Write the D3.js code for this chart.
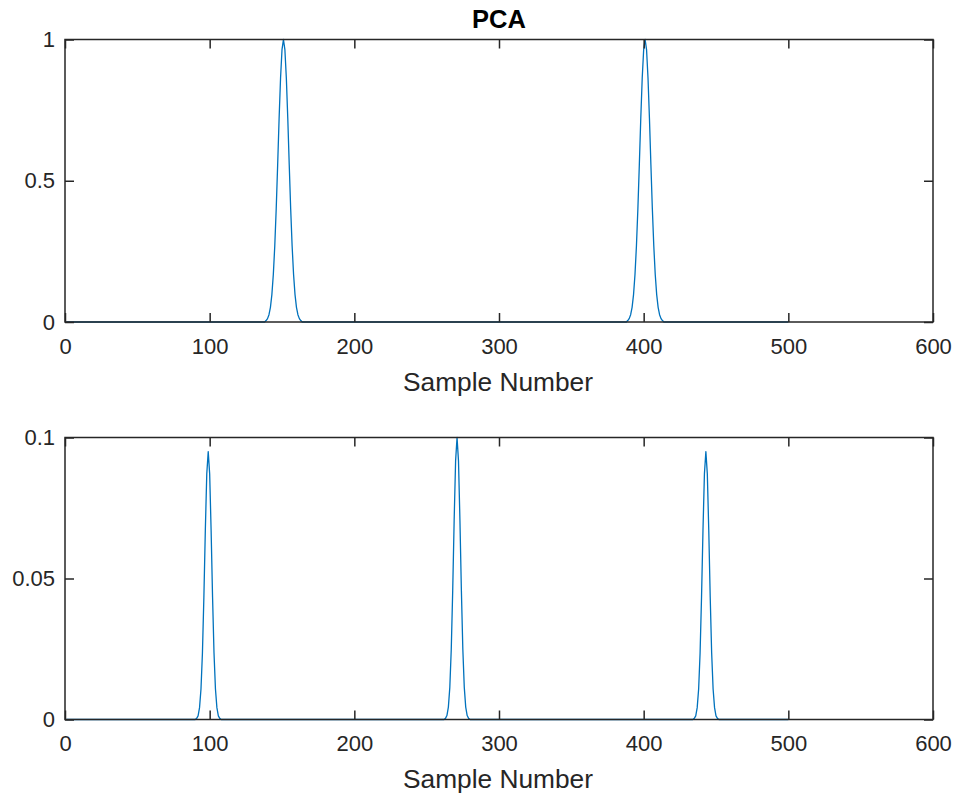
<!DOCTYPE html>
<html>
<head>
<meta charset="utf-8">
<script src="https://cdn.jsdelivr.net/npm/d3@7"></script>
<style>
  html, body { margin: 0; padding: 0; background: #fff; }
  svg { display: block; font-family: "Liberation Sans", Arial, Helvetica, sans-serif; }
  .tick text { fill: #262626; }
</style>
</head>
<body>
<svg id="chart" width="955" height="796"></svg>
<script>
// values (sample number -> output)
const xTicks = [0, 100, 200, 300, 400, 500, 600];

const topSamples = [1, 138,
  139, 140, 141, 142, 143, 144, 145, 146, 147, 148, 149, 150, 151,
  152, 153, 154, 155, 156, 157, 158, 159, 160, 161, 162, 163,
  164, 388,
  389, 390, 391, 392, 393, 394, 395, 396, 397, 398, 399, 400, 401,
  402, 403, 404, 405, 406, 407, 408, 409, 410, 411, 412, 413,
  414, 500];
const topValues = [0, 0,
  0.005, 0.012, 0.026, 0.052, 0.097, 0.168, 0.269, 0.401, 0.557, 0.720, 0.864, 0.964, 1.0,
  0.964, 0.864, 0.720, 0.557, 0.401, 0.269, 0.168, 0.097, 0.052, 0.026, 0.012, 0.005,
  0, 0,
  0.005, 0.012, 0.026, 0.052, 0.097, 0.168, 0.269, 0.401, 0.557, 0.720, 0.864, 0.964, 1.0,
  0.964, 0.864, 0.720, 0.557, 0.401, 0.269, 0.168, 0.097, 0.052, 0.026, 0.012, 0.005,
  0, 0];
const topYTicks = [0, 0.5, 1];

const bottomSamples = [1, 90,
  91, 92, 93, 94, 95, 96, 97, 98, 99, 100, 101, 102, 103, 104, 105, 106, 107,
  108, 262,
  263, 264, 265, 266, 267, 268, 269, 270, 271, 272, 273, 274, 275, 276, 277, 278, 279,
  280, 434,
  435, 436, 437, 438, 439, 440, 441, 442, 443, 444, 445, 446, 447, 448, 449, 450, 451,
  452, 500];
const bottomValues = [0, 0,
  0.0004, 0.0013, 0.0042, 0.0108, 0.0236, 0.0434, 0.0671, 0.0871, 0.095,
  0.0871, 0.0671, 0.0434, 0.0236, 0.0108, 0.0042, 0.0013, 0.0004,
  0, 0,
  0.0004, 0.0014, 0.0044, 0.0114, 0.0249, 0.0457, 0.0706, 0.0917, 0.1,
  0.0917, 0.0706, 0.0457, 0.0249, 0.0114, 0.0044, 0.0014, 0.0004,
  0, 0,
  0.0004, 0.0013, 0.0042, 0.0108, 0.0236, 0.0434, 0.0671, 0.0871, 0.095,
  0.0871, 0.0671, 0.0434, 0.0236, 0.0108, 0.0042, 0.0013, 0.0004,
  0, 0];
const bottomYTicks = [0, 0.05, 0.1];

const svg = d3.select('#chart');
const axisColor = '#262626';
const lineColor = '#0072BD';
const left = 65, right = 933;

function panel(top, bottom, samples, values, yMax, yTicks, title){
  const x = d3.scaleLinear().domain([0, 600]).range([left, right]);
  const y = d3.scaleLinear().domain([0, yMax]).range([bottom, top]);
  const g = svg.append('g');

  // data line
  const pts = samples.map((s, i) => [s, values[i]]);
  g.append('path')
    .datum(pts)
    .attr('fill', 'none')
    .attr('stroke', lineColor)
    .attr('stroke-width', 1.3)
    .attr('stroke-linejoin', 'round')
    .attr('d', d3.line().x(d => x(d[0])).y(d => y(d[1])));

  // axes: ticks inside, on all four sides
  const tickLen = 9;
  const ax = [
    {a: d3.axisBottom(x).tickValues(xTicks), t: `translate(0,${bottom})`, labels: true, pad: 16},
    {a: d3.axisTop(x).tickValues(xTicks), t: `translate(0,${top})`, labels: false, pad: 16},
    {a: d3.axisLeft(y).tickValues(yTicks), t: `translate(${left},0)`, labels: true, pad: 10},
    {a: d3.axisRight(y).tickValues(yTicks), t: `translate(${right},0)`, labels: false, pad: 10}
  ];
  ax.forEach(o => {
    const ag = g.append('g').attr('transform', o.t)
      .call(o.a.tickSizeInner(-tickLen).tickSizeOuter(0).tickPadding(o.pad).tickFormat(d3.format('')));
    ag.select('.domain').remove();
    ag.selectAll('.tick line').attr('stroke', axisColor).attr('stroke-width', 1.5);
    ag.selectAll('.tick text').attr('font-size', 22);
    if(!o.labels){ ag.selectAll('.tick text').remove(); }
  });

  // box
  g.append('rect')
    .attr('x', left).attr('y', top)
    .attr('width', right - left).attr('height', bottom - top)
    .attr('fill', 'none').attr('stroke', axisColor).attr('stroke-width', 1.5);

  g.append('text')
    .attr('x', (left + right) / 2 - 1).attr('y', bottom + 68.5)
    .attr('text-anchor', 'middle').attr('font-size', 26.3).attr('fill', axisColor)
    .text('Sample Number');

  if(title){
    g.append('text')
      .attr('x', (left + right) / 2).attr('y', top - 12)
      .attr('text-anchor', 'middle').attr('font-size', 25.5).attr('font-weight', 'bold')
      .attr('fill', '#000')
      .text(title);
  }
}

panel(39.5, 322, topSamples, topValues, 1, topYTicks, 'PCA');
panel(437.5, 719.5, bottomSamples, bottomValues, 0.1, bottomYTicks, null);
</script>
</body>
</html>
